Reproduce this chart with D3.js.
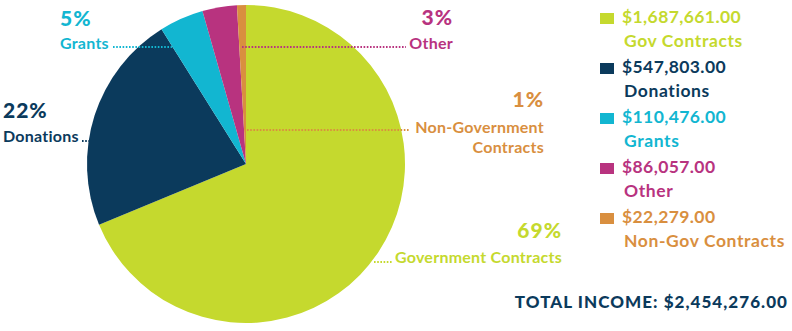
<!DOCTYPE html>
<html><head><meta charset="utf-8">
<script src="https://cdn.jsdelivr.net/npm/d3@7"></script>
<style>body{margin:0;background:#fff}svg{display:block}text{font-family:Lato,"Open Sans",sans-serif}</style>
</head><body>
<script>
const categories = ["Government Contracts","Donations","Grants","Other","Non-Government Contracts"];
const values = [1687661, 547803, 110476, 86057, 22279];
const pctLabels = ["69%","22%","5%","3%","1%"];
const legendNames = ["Gov Contracts","Donations","Grants","Other","Non-Gov Contracts"];
const colors = ["#c5d92e","#0b3a5c","#12b6d1","#b8337f","#d98f3f"];
const totalLabel = "TOTAL INCOME: $2,454,276.00";

const W = 792, H = 331;
const svg = d3.select("body").append("svg").attr("width", W).attr("height", H);

const cx = 246, cy = 164, r = 159;
const pie = d3.pie().sort(null).value(d => d)(values);
const arc = d3.arc().innerRadius(0).outerRadius(r);
const g = svg.append("g").attr("transform", `translate(${cx},${cy})`);
g.selectAll("path").data(pie).join("path").attr("d", arc).attr("fill", (d, i) => colors[i]);

// annotation layout (index into data)
const ann = [
  {i: 2, anchor: "start", px: 60, py: 26, lines: ["Grants"], lx: 60, ly: 49, dots: [113, 176, 47]},
  {i: 1, anchor: "start", px: 3, py: 118, lines: ["Donations"], lx: 3, ly: 142, dots: [82, 90, 141]},
  {i: 3, anchor: "end", px: 453, py: 25, lines: ["Other"], lx: 453, ly: 49, dots: [242, 406, 47]},
  {i: 4, anchor: "end", px: 544, py: 107, lines: ["Non-Government", "Contracts"], lx: 544, ly: 133, dots: [247, 409, 130]},
  {i: 0, anchor: "end", px: 562, py: 238, lines: ["Government Contracts"], lx: 562, ly: 263, dots: [374, 392, 262]}
];
ann.forEach(a => {
  const c = colors[a.i];
  svg.append("line").attr("x1", a.dots[0]).attr("x2", a.dots[1]).attr("y1", a.dots[2]).attr("y2", a.dots[2])
    .attr("stroke", c).attr("stroke-width", 2).attr("stroke-dasharray", "1.6,1.6");
  svg.append("text").attr("x", a.px).attr("y", a.py).attr("text-anchor", a.anchor)
    .attr("fill", c).attr("font-size", 21).attr("font-weight", 900).attr("letter-spacing", 1).text(pctLabels[a.i]);
  a.lines.forEach((t, k) => {
    svg.append("text").attr("x", a.lx).attr("y", a.ly + k * 20).attr("text-anchor", a.anchor)
      .attr("fill", c).attr("font-size", 16).attr("font-weight", 700).attr("letter-spacing", 0.25).text(t);
  });
});

// legend
const fmt = v => "$" + d3.format(",.2f")(v);
const lg = svg.append("g");
values.forEach((v, i) => {
  const y = 23 + i * 50;
  lg.append("rect").attr("x", 600).attr("y", y - 10).attr("width", 14).attr("height", 11).attr("fill", colors[i]);
  lg.append("text").attr("x", 622).attr("y", y).attr("fill", colors[i])
    .attr("font-size", 17.5).attr("font-weight", 700).attr("letter-spacing", 0.4).text(fmt(v));
  lg.append("text").attr("x", 624).attr("y", y + 24).attr("fill", colors[i])
    .attr("font-size", 17.5).attr("font-weight", 700).attr("letter-spacing", 0.6).text(legendNames[i]);
});
svg.append("text").attr("x", 788).attr("y", 308).attr("text-anchor", "end").attr("fill", "#0b3a5c")
  .attr("font-size", 17).attr("font-weight", 900).attr("letter-spacing", 1.05).text(totalLabel);
</script>
</body></html>
